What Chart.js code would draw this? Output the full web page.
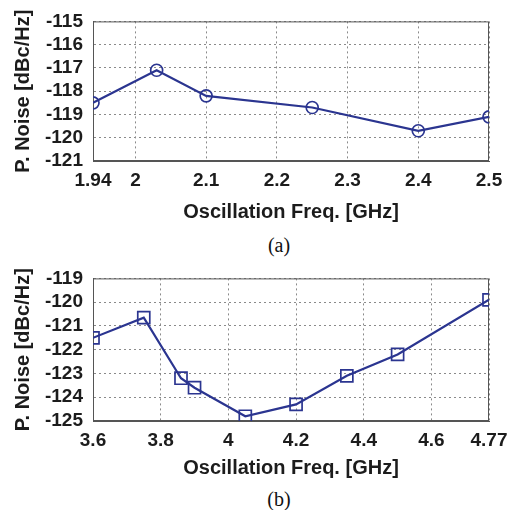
<!DOCTYPE html>
<html>
<head>
<meta charset="utf-8">
<script src="https://cdn.jsdelivr.net/npm/chart.js@4.4.0/dist/chart.umd.min.js"></script>
<style>
  html, body { margin: 0; padding: 0; background: #fff; }
  #wrap { position: relative; width: 509px; height: 510px; background: #fff; overflow: hidden; }
  canvas { position: absolute; left: 0; }
  .cap { position: absolute; width: 60px; text-align: center; font-family: "Liberation Serif", serif; font-size: 20px; color: #111; line-height: 20px; }
</style>
</head>
<body>
<div id="wrap">
  <canvas id="chart-a" width="509" height="228" style="top:0"></canvas>
  <div class="cap" style="left:249px;top:235px">(a)</div>
  <canvas id="chart-b" width="509" height="228" style="top:257px"></canvas>
  <div class="cap" style="left:249px;top:489px">(b)</div>
</div>
<script>
// ---- data (a) ----
const freqA  = [1.94, 2.03, 2.1, 2.25, 2.4, 2.5];
const noiseA = [-118.5, -117.1, -118.2, -118.7, -119.7, -119.1];
const xTicksA = [1.94, 2, 2.1, 2.2, 2.3, 2.4, 2.5];
const yTicksA = [-121, -120, -119, -118, -117, -116, -115];

// ---- data (b) ----
const freqB  = [3.6, 3.75, 3.86, 3.9, 4.05, 4.2, 4.35, 4.5, 4.77];
const noiseB = [-121.5, -120.65, -123.2, -123.6, -124.8, -124.3, -123.1, -122.2, -119.9];
const xTicksB = [3.6, 3.8, 4, 4.2, 4.4, 4.6, 4.77];
const yTicksB = [-125, -124, -123, -122, -121, -120, -119];

const LINE = '#2b3590';
const TEXT = '#1c1c1c';
const GRID = '#8a8a8a';

// box around the plot area, like the matlab axes
const boxPlugin = {
  id: 'box',
  beforeDatasetsDraw(chart) {
    const { ctx, chartArea: { left, top, right, bottom } } = chart;
    ctx.save();
    ctx.setLineDash([]);
    ctx.strokeStyle = '#555';
    ctx.lineWidth = 1;
    ctx.strokeRect(left + 0.5, top + 0.5, right - left - 1, bottom - top - 1);
    ctx.restore();
  }
};

function makeChart(id, xs, ys, xt, yt, marker, radius, xAxisH, titlePad) {
  const pts = xs.map((x, i) => ({ x, y: ys[i] }));
  return new Chart(document.getElementById(id), {
    type: 'line',
    data: {
      datasets: [{
        data: pts,
        borderColor: LINE,
        borderWidth: 2.2,
        pointStyle: marker,
        pointRadius: radius,
        pointBorderWidth: 1.7,
        pointBorderColor: LINE,
        pointBackgroundColor: 'rgba(0,0,0,0)',
        tension: 0,
        fill: false
      }]
    },
    options: {
      responsive: false,
      animation: false,
      devicePixelRatio: 1,
      layout: { padding: { top: 15, right: 20, bottom: 0, left: 0 } },
      plugins: { legend: { display: false }, tooltip: { enabled: false } },
      scales: {
        x: {
          type: 'linear',
          min: xt[0], max: xt[xt.length - 1],
          afterBuildTicks: s => { s.ticks = xt.map(v => ({ value: v })); },
          afterFit: s => { s.height = xAxisH; s.paddingLeft = 0; s.paddingRight = 0; },
          grid: { color: GRID, drawTicks: false, lineWidth: 1, borderDash: [2, 3] },
          border: { display: true, color: '#555', width: 1, dash: [2, 3] },
          ticks: {
            padding: 8, autoSkip: false, maxRotation: 0,
            color: TEXT, font: { family: 'Liberation Sans', weight: 'bold', size: 19 },
            callback: v => String(v)
          },
          title: {
            display: true, text: 'Oscillation Freq. [GHz]', color: TEXT,
            font: { family: 'Liberation Sans', weight: 'bold', size: 20 },
            padding: { top: 0, bottom: titlePad }
          }
        },
        y: {
          min: yt[0], max: yt[yt.length - 1],
          afterBuildTicks: s => { s.ticks = yt.map(v => ({ value: v })); },
          afterFit: s => { s.width = 93; },
          grid: { color: GRID, drawTicks: false, lineWidth: 1, borderDash: [2, 3] },
          border: { display: true, color: '#555', width: 1, dash: [2, 3] },
          ticks: {
            padding: 10, autoSkip: false, color: TEXT,
            font: { family: 'Liberation Sans', weight: 'bold', size: 19 },
            callback: v => String(v)
          },
          title: {
            display: true, text: 'P. Noise [dBc/Hz]', color: TEXT,
            font: { family: 'Liberation Sans', weight: 'bold', size: 20 },
            padding: { top: 11, bottom: 0 }
          }
        }
      }
    },
    plugins: [boxPlugin]
  });
}

makeChart('chart-a', freqA, noiseA, xTicksA, yTicksA, 'circle', 6, 67, 4);
makeChart('chart-b', freqB, noiseB, xTicksB, yTicksB, 'rect', 8.5, 64, 5);
</script>
</body>
</html>
